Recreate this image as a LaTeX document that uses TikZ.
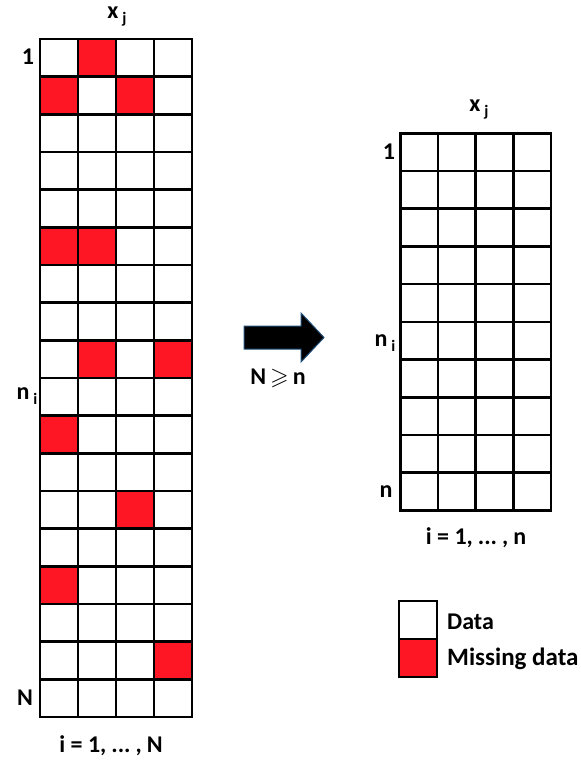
\documentclass[tikz,border=0pt]{standalone}
\usepackage{fontspec}
\setmainfont{Carlito}
\usepackage{amssymb}
\definecolor{missred}{RGB}{255,22,36}
\definecolor{arrowedge}{RGB}{31,78,121}
\begin{document}
\begin{tikzpicture}[x=1pt,y=-1pt,
  cell/.style={draw=black, line width=2.6pt, fill=white, inner sep=0pt, minimum width=38pt, minimum height=37.7pt},
  rcell/.style={cell, minimum width=37.6pt, minimum height=37.7pt},
  miss/.style={fill=missred},
  lbl/.style={font=\fontsize{24}{26}\selectfont\bfseries, inner sep=0pt}]
\useasboundingbox (0,0) rectangle (581,761);
% left grid
\foreach \r in {1,...,18}
  \foreach \c in {1,...,4}
    \node[cell] (L-\r-\c) at ({40+38*(\c-0.5)}, {39+37.67*(\r-0.5)}) {};
\foreach \r/\c in {1/2, 2/1, 2/3, 6/1, 6/2, 9/2, 9/4, 11/1, 13/3, 15/1, 17/4}
  \node[cell, miss] (M-\r-\c) at ({40+38*(\c-0.5)}, {39+37.67*(\r-0.5)}) {};
% right grid
\foreach \r in {1,...,10}
  \foreach \c in {1,...,4}
    \node[rcell] (R-\r-\c) at ({400.5+37.6*(\c-0.5)}, {133.3+37.7*(\r-0.5)}) {};
% labels left
\node[lbl] (lxj) at (117,17) {x\,\lower5pt\hbox{\fontsize{16}{16}\selectfont j}};
\node[lbl] (l1) at (28,57) {1};
\node[lbl] (lni) at (27,396) {n\,\lower5pt\hbox{\fontsize{16}{16}\selectfont i}};
\node[lbl] (lN) at (25,698) {N};
\node[lbl] (lrange) at (111,746) {i = 1,\kern5pt...\kern5pt,\kern5pt N};
% labels right
\node[lbl] (rxj) at (479,110) {x\,\lower5pt\hbox{\fontsize{16}{16}\selectfont j}};
\node[lbl] (r1) at (389,152) {1};
\node[lbl] (rni) at (385,343) {n\,\lower5pt\hbox{\fontsize{16}{16}\selectfont i}};
\node[lbl] (rn) at (386,492) {n};
\node[lbl] (rrange) at (476,538) {i = 1,\kern5pt...\kern5pt,\kern5pt n};
% arrow
\draw[fill=black, draw=arrowedge, line width=1pt]
  (244,326) -- (301,326) -- (301,313) -- (324,337.5) -- (301,362) -- (301,349) -- (244,349) -- cycle;
\node[lbl] (cond) at (278,378) {N\,$\geqslant$\,n};
% legend
\node[cell] (legD) at (418,620) {};
\node[cell, miss] (legM) at (418,658) {};
\node[lbl, anchor=west] (tD) at (447,622) {Data};
\node[lbl, anchor=west, font=\fontsize{25}{27}\selectfont\bfseries] (tM) at (447,659) {Missing data};
\end{tikzpicture}
\end{document}
